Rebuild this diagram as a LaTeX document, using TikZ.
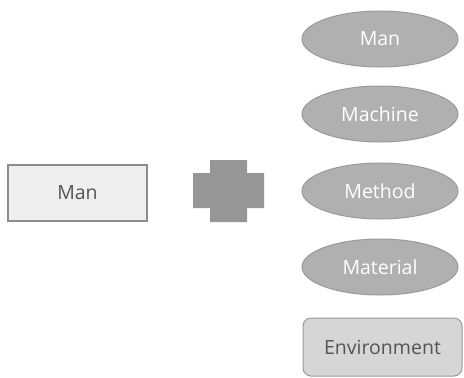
\documentclass[tikz,border=0pt]{standalone}
\usepackage{fontspec}
\setmainfont{Open Sans}
\usetikzlibrary{shapes.geometric}
\definecolor{rectfill}{HTML}{EFEFEF}
\definecolor{rectline}{HTML}{8C8C8C}
\definecolor{crossfill}{HTML}{969696}
\definecolor{ellfill}{HTML}{B0B0B0}
\definecolor{ellline}{HTML}{999999}
\definecolor{envfill}{HTML}{D6D6D6}
\definecolor{txtdark}{HTML}{555555}
\tikzset{
  mainbox/.style={draw=rectline, line width=1.5pt, fill=rectfill, minimum width=139pt, minimum height=56pt, inner sep=0pt, text=txtdark, font=\fontsize{19.5}{22}\selectfont},
  factor/.style={ellipse, draw=ellline, line width=1pt, fill=ellfill, minimum width=156pt, minimum height=56pt, inner sep=0pt, text=white, font=\fontsize{19.5}{22}\selectfont},
  envbox/.style={draw=ellline, line width=1pt, fill=envfill, rounded corners=8pt, minimum width=159pt, minimum height=58pt, inner sep=0pt, text=txtdark, font=\fontsize{19.5}{22}\selectfont}
}
\begin{document}
\begin{tikzpicture}[x=1pt,y=-1pt]
\useasboundingbox (0,0) rectangle (464,378);
\node[mainbox] (man) at (77.5,193) {Man};
\fill[crossfill] (210,160) -- (247,160) -- (247,173) -- (264,173) -- (264,208) -- (247,208) -- (247,222) -- (210,222) -- (210,208) -- (193,208) -- (193,173) -- (210,173) -- cycle;
\node[factor] (f1) at (380,39) {Man};
\node[factor] (f2) at (380,114) {Machine};
\node[factor] (f3) at (380,191) {Method};
\node[factor] (f4) at (380,267) {Material};
\node[envbox] (env) at (382.5,347) {Environment};
\end{tikzpicture}
\end{document}
